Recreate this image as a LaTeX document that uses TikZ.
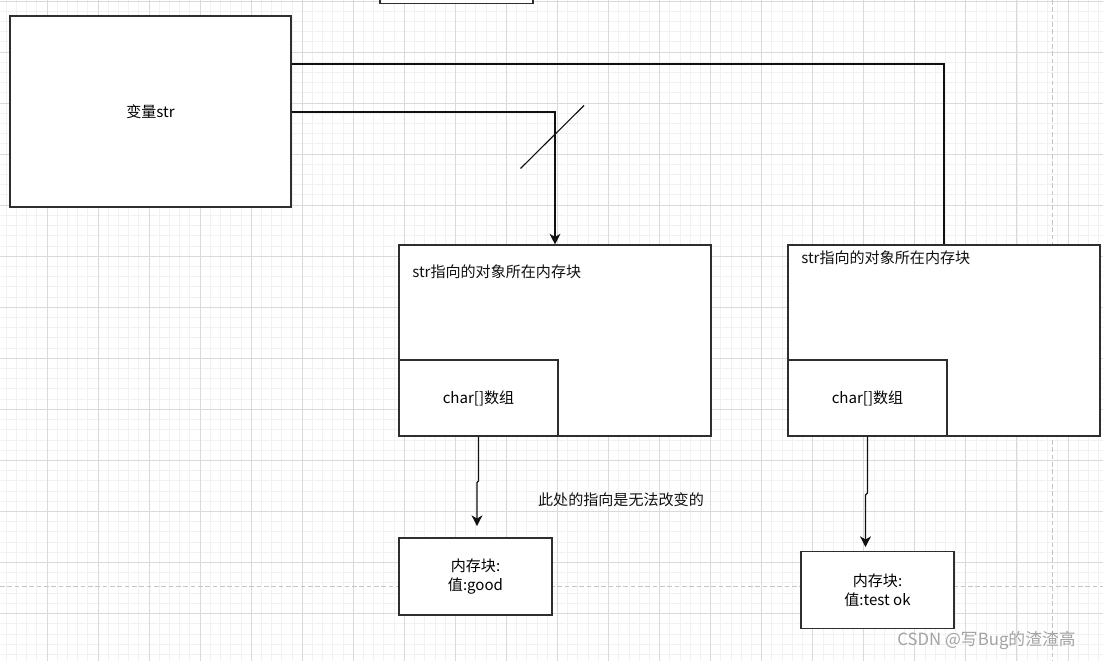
\documentclass[tikz,border=0pt]{standalone}
\usepackage{fontspec}
\setmainfont{Noto Sans CJK SC}
\usetikzlibrary{positioning, arrows.meta, calc}
\definecolor{ink}{HTML}{111111}
\definecolor{edge}{HTML}{2E2E2E}
\definecolor{gridminor}{HTML}{F1F1F1}
\definecolor{gridmajor}{HTML}{DADADA}
\definecolor{pageline}{HTML}{C4C4C4}
\definecolor{wmark}{HTML}{A3A3A3}
\newcommand{\pxu}{0.75pt}
\newcommand{\lblfont}{\fontsize{11.3}{14.3}\selectfont}
\tikzset{
  varbox/.style  = {rectangle, draw=edge, line width=0.9pt, fill=white,
                    minimum width=281*\pxu, minimum height=191*\pxu,
                    inner sep=0pt, align=center, font=\lblfont},
  membox/.style  = {rectangle, draw=edge, line width=0.9pt, fill=white,
                    minimum width=312*\pxu, minimum height=191*\pxu, inner sep=0pt},
  cellbox/.style = {rectangle, draw=edge, line width=0.9pt, fill=white,
                    minimum width=159*\pxu, minimum height=76*\pxu,
                    inner sep=0pt, align=center, font=\lblfont},
  valbox/.style  = {rectangle, draw=edge, line width=0.9pt, fill=white,
                    minimum width=153*\pxu, minimum height=77*\pxu,
                    inner sep=0pt, align=center, font=\lblfont},
  txt/.style     = {inner sep=0pt, align=center, font=\lblfont, text=ink},
  wire/.style    = {draw=ink, line width=0.85pt},
  link/.style    = {-{Stealth[length=8pt, width=8.2pt, inset=2.4pt]}, draw=ink, line width=0.85pt},
  pagedash/.style= {draw=pageline, line width=0.75pt, dash pattern=on 3.5pt off 2pt},
}

\begin{document}
\begin{tikzpicture}[x=\pxu, y=-\pxu]
  \useasboundingbox (0,0) rectangle (1103,661);
  \clip (0,0) rectangle (1103,661);
  \fill[white] (0,0) rectangle (1103,661);

  % grid
  \foreach \i in {0,...,108}
     {\draw[gridminor, line width=0.75pt] ({6.2+10.21*\i},0) -- ++(0,661);}
  \foreach \i in {0,...,65}
     {\draw[gridminor, line width=0.75pt] (0,{1+10.21*\i}) -- ++(1103,0);}
  \foreach \i in {0,...,21}
     {\draw[gridmajor, line width=0.75pt] ({47+51.05*\i},0) -- ++(0,661);}
  \foreach \i in {0,...,12}
     {\draw[gridmajor, line width=0.75pt] (0,{1+51.05*\i}) -- ++(1103,0);}
  \draw[pagedash] (1052.5,0) -- (1052.5,661);
  \draw[pagedash] (0,586) -- (1103,586);

  % boxes
  \node[valbox] (top) at (456.5,-35) {};
  \node[varbox] (var) at (150.5,111.5) {变量str};

  \node[membox] (mem1) at (555,340.5) {};
  \node[cellbox, anchor=south west] (arr1) at (mem1.south west) {char[]数组};
  \node[txt, anchor=west] (title1) at (412,271.5) {str指向的对象所在内存块};
  \node[valbox] (val1) at (475.5,576.5) {内存块:\\值:good};

  \node[membox] (mem2) at (944,340.5) {};
  \node[cellbox, anchor=south west] (arr2) at (mem2.south west) {char[]数组};
  \node[txt, anchor=west] (title2) at (801,257.5) {str指向的对象所在内存块};
  \node[valbox] (val2) at (877.5,590) {内存块:\\值:test ok};

  \node[txt] (note) at (621,500) {此处的指向是无法改变的};

  % connectors
  \coordinate (bend2) at (944,64);
  \draw[wire] (var.east |- bend2) -- (bend2) -- (mem2.north);
  \coordinate (bend1) at (555,112);
  \draw[link] (var.east |- bend1) -- (bend1) -- (mem1.north);

  \coordinate (cutA) at (520.5,168.5);
  \coordinate (cutB) at (584,105.5);
  \draw[wire] (cutA) -- (cutB);

  \coordinate (tip1) at (477,526);
  \draw[link] (arr1.south) -- (478.5,481) -- (477,482.5) -- (tip1);
  \coordinate (tip2) at (865.5,547);
  \draw[link] (arr2.south) -- (867.5,493) -- (865.5,495) -- (tip2);

  \node[inner sep=0pt, font=\fontsize{12.6}{15}\selectfont, text=wmark] (csdn) at (986.5,640.5)
       {CSDN @写Bug的渣渣高};

\end{tikzpicture}
\end{document}
